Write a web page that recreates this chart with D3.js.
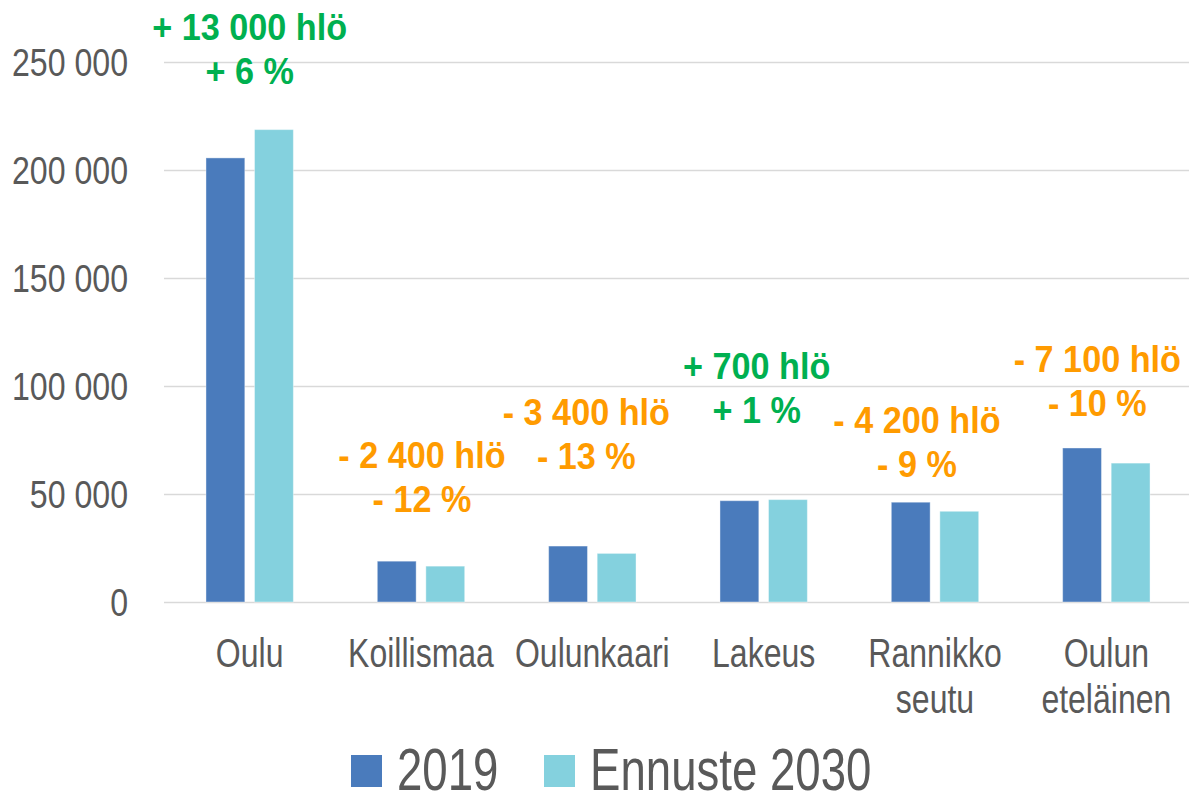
<!DOCTYPE html>
<html>
<head>
<meta charset="utf-8">
<script src="https://cdn.jsdelivr.net/npm/d3@7"></script>
<style>
  body { margin: 0; background: #fff; }
  svg { display: block; }
  .narrow { font-family: "Liberation Sans", Arial, sans-serif; fill: #595959; }
  .anno { font-family: "Liberation Sans", Arial, sans-serif; font-weight: bold; }
</style>
</head>
<body>
<div id="chart"></div>
<script>
// categories (with line breaks as in the picture)
const categories = ["Oulu", "Koillismaa", "Oulunkaari", "Lakeus", "Rannikkoseutu", "Oulun eteläinen"];
const categoryLines = [["Oulu"], ["Koillismaa"], ["Oulunkaari"], ["Lakeus"], ["Rannikko", "seutu"], ["Oulun", "eteläinen"]];
const seriesNames = ["2019", "Ennuste 2030"];
const values2019 = [205600, 18900, 25900, 46900, 46200, 71300];
const values2030 = [218700, 16600, 22500, 47400, 42000, 64300];
const yTicks = [0, 50000, 100000, 150000, 200000, 250000];

// change labels above each group
const changeAbs = ["+ 13 000 hlö", "- 2 400 hlö", "- 3 400 hlö", "+ 700 hlö", "- 4 200 hlö", "- 7 100 hlö"];
const changePct = ["+ 6 %", "- 12 %", "- 13 %", "+ 1 %", "- 9 %", "- 10 %"];

// layout only: offset of each change label from its group centre, and baseline of its first line
const annoLayout = [[0, 40], [1, 468], [-6, 425], [-7, 379], [-18, 433], [-9, 372]];

const colors = ["#4a7bbc", "#84d1de"];
const green = "#00b050";
const orange = "#ff9b00";

const width = 1189, height = 792;
const margin = { top: 62, right: -3, bottom: 190, left: 164 };
const innerWidth = width - margin.left - margin.right;
const innerHeight = height - margin.top - margin.bottom;

const svg = d3.select("#chart").append("svg")
    .attr("width", width)
    .attr("height", height);

const chart = svg.append("g")
    .attr("transform", `translate(${margin.left}, ${margin.top})`);

// text in the picture is horizontally narrow: squeeze each label to a share of its own width
function squeeze(sel, k) {
    sel.each(function () {
        const len = this.getComputedTextLength();
        d3.select(this)
            .attr("textLength", len * k)
            .attr("lengthAdjust", "spacingAndGlyphs");
    });
}

const x0 = d3.scaleBand()
    .domain(categories)
    .range([0, innerWidth])
    .paddingInner(0.49)
    .paddingOuter(0.245);

const x1 = d3.scaleBand()
    .domain(seriesNames)
    .range([0, x0.bandwidth()])
    .paddingInner(0.2);

const y = d3.scaleLinear()
    .domain([0, 250000])
    .range([innerHeight, 0]);

// gridlines
chart.append("g")
    .attr("class", "grid")
    .call(d3.axisLeft(y).tickValues(yTicks).tickSize(-width).tickFormat(""))
    .call(g => g.select(".domain").remove())
    .call(g => g.selectAll("line").attr("stroke", "#d9d9d9").attr("stroke-width", 1.5));

// y axis labels
const fmt = d => d3.format(",")(d).replace(/,/g, " ");
chart.append("g")
    .call(d3.axisLeft(y).tickValues(yTicks).tickSize(0).tickPadding(36).tickFormat(fmt))
    .call(g => g.select(".domain").remove())
    .selectAll("text")
    .attr("class", "narrow")
    .attr("dy", "0.36em")
    .style("font-size", "38px")
    .call(squeeze, 0.845);

// bars
const rows = categories.map((c, i) => ({ cat: c, vals: [values2019[i], values2030[i]] }));

const groups = chart.selectAll(".group")
    .data(rows)
    .enter().append("g")
    .attr("class", "group")
    .attr("transform", d => `translate(${x0(d.cat)}, 0)`);

groups.selectAll("rect")
    .data(d => d.vals.map((v, j) => ({ key: seriesNames[j], v: v, j: j })))
    .enter().append("rect")
    .attr("x", d => x1(d.key))
    .attr("y", d => y(d.v))
    .attr("width", x1.bandwidth())
    .attr("height", d => innerHeight - y(d.v))
    .attr("fill", d => colors[d.j])
    .attr("stroke", "#ffffff")
    .attr("stroke-opacity", 0.4)
    .attr("stroke-width", 1);

// category labels
categoryLines.forEach((lines, i) => {
    const cx = x0(categories[i]) + x0.bandwidth() / 2;
    lines.forEach((t, k) => {
        chart.append("text")
            .attr("class", "narrow xlab")
            .attr("text-anchor", "middle")
            .attr("x", cx)
            .attr("y", innerHeight + 65 + k * 46)
            .style("font-size", "40px")
            .text(t)
            .call(squeeze, 0.8);
    });
});

// change annotations
categories.forEach((c, i) => {
    const cx = x0(c) + x0.bandwidth() / 2 + annoLayout[i][0];
    const base = annoLayout[i][1] - margin.top;
    const col = changeAbs[i].startsWith("+") ? green : orange;
    [changeAbs[i], changePct[i]].forEach((t, k) => {
        chart.append("text")
            .attr("class", "anno")
            .attr("text-anchor", "middle")
            .attr("x", cx)
            .attr("y", base + k * 44)
            .style("font-size", "36px")
            .attr("fill", col)
            .text(t)
            .call(squeeze, 0.95);
    });
});

// legend
const legend = svg.append("g")
    .attr("transform", `translate(0, ${height - 2})`);

const legendX = [351, 544];
seriesNames.forEach((s, i) => {
    legend.append("rect")
        .attr("x", legendX[i])
        .attr("y", -35)
        .attr("width", 31)
        .attr("height", 32)
        .attr("fill", colors[i]);
    legend.append("text")
        .attr("class", "narrow")
        .attr("x", legendX[i] + 46)
        .attr("y", 0)
        .style("font-size", "60px")
        .text(s)
        .call(squeeze, 0.76);
});
</script>
</body>
</html>
